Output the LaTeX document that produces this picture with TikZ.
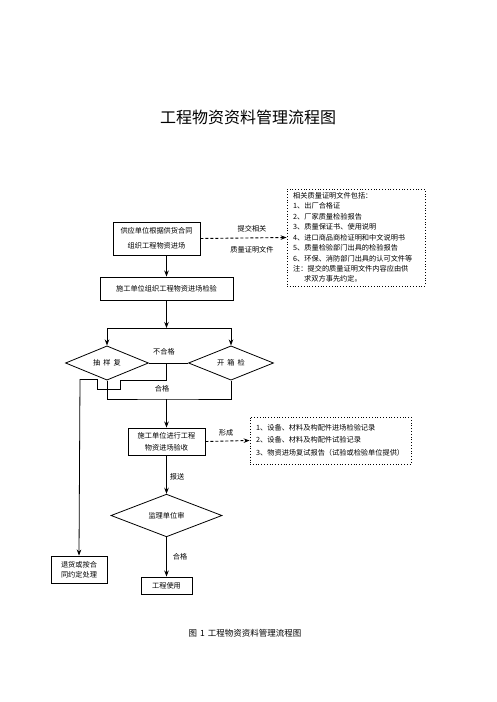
\documentclass[tikz,border=0pt]{standalone}
\usepackage{fontspec}
\setmainfont{Noto Sans CJK SC}
\usetikzlibrary{arrows.meta,shapes.geometric}
\tikzset{
  box/.style={draw,line width=0.9pt,inner sep=0pt,align=center,font=\fontsize{7.2}{12}\selectfont},
  dia/.style={draw,diamond,line width=0.8pt,inner sep=0pt,font=\fontsize{7.2}{9}\selectfont},
  infobox/.style={draw,dotted,line width=0.8pt},
  arr/.style={line width=0.8pt,-{Stealth[length=6pt,width=4.5pt]}},
  ln/.style={line width=0.8pt},
  dasharr/.style={line width=0.9pt,dashed,dash pattern=on 3pt off 2pt,-{Stealth[length=6pt,width=4.5pt]}},
  lbl/.style={font=\fontsize{7.2}{9}\selectfont,inner sep=0pt},
  txt/.style={font=\fontsize{7.2}{9}\selectfont,inner sep=0pt,align=left}
}
\begin{document}
\begin{tikzpicture}[x=1pt,y=-1pt]
\useasboundingbox (0,0) rectangle (496,702);
\fill[white] (0,0) rectangle (496,702);
% title
\node[inner sep=0pt,font=\fontsize{16}{18}\selectfont] (title) at (248,117) {工程物资资料管理流程图};
% boxes
\node[box,minimum width=87pt,minimum height=33pt,font=\fontsize{7.2}{15}\selectfont] (box1) at (156.5,238.5) {供应单位根据供货合同\\组织工程物资进场};
\node[box,minimum width=133pt,minimum height=23pt] (box2) at (166.5,288.5) {施工单位组织工程物资进场检验};
\node[dia,minimum width=83pt,minimum height=32pt] (d1) at (107,363) {抽\hspace{3pt}样\hspace{3pt}复};
\node[dia,minimum width=85pt,minimum height=32pt] (d2) at (231,363) {开\hspace{3pt}箱\hspace{3pt}检};
\node[box,minimum width=77pt,minimum height=27pt] (box3) at (166.5,441.5) {施工单位进行工程\\物资进场验收};
\node[dia,minimum width=111pt,minimum height=35pt] (d3) at (166.5,515.5) {监理单位审};
\node[box,minimum width=51pt,minimum height=17pt] (use) at (166.5,585.5) {工程使用};
\node[box,minimum width=56pt,minimum height=27pt,font=\fontsize{7.2}{10.5}\selectfont] (ret) at (79,569.5) {退货或按合\\同约定处理};
% info boxes
\node[infobox,minimum width=138pt,minimum height=97pt] (info1) at (356,237.5) {};
\node[txt,anchor=north west,font=\fontsize{7.2}{10.45}\selectfont] (info1t) at (293,192) {相关质量证明文件包括：\\1、出厂合格证\\2、厂家质量检验报告\\3、质量保证书、使用说明\\4、进口商品商检证明和中文说明书\\5、质量检验部门出具的检验报告\\6、环保、消防部门出具的认可文件等\\注：提交的质量证明文件内容应由供\\\hspace*{11pt}求双方事先约定。};
\node[infobox,minimum width=161pt,minimum height=47pt] (info2) at (330.5,440.5) {};
\node[txt,anchor=north west,font=\fontsize{7.2}{12.5}\selectfont] (info2t) at (256,424) {1、设备、材料及构配件进场检验记录\\2、设备、材料及构配件试验记录\\3、物资进场复试报告（试验或检验单位提供）};
% connectors
\draw[dasharr] (box1.east) -- (info1.west);
\node[lbl] (l1) at (252,229) {提交相关};
\node[lbl] (l2) at (252,250) {质量证明文件};
\draw[arr] (box1.south -| box2.north) -- (box2.north);
\coordinate (split) at (166.5,328);
\draw[arr] (box2.south) -- (split);
\draw[arr,shorten <=-0.4pt] (split) -| (d1.north);
\draw[arr,shorten <=-0.4pt] (split) -| (d2.north);
% fail path
\draw[ln] (d1.east) -- (d2.west);
\node[lbl] (l3) at (164,352) {不合格};
\coordinate (f0) at (166.5,363);
\coordinate (f1) at (80,379);
\draw[ln] (f0) -- (166.5,380) -- (120,380) -- (120,389) -- (97,389) -- (97,379) -- (f1);
\draw[arr] (f1) -- (ret.north);
% pass path
\coordinate (p0) at (166.5,399);
\draw[ln] (d1.south) |- (p0) -| (d2.south);
\node[lbl] (l4) at (162,389) {合格};
\draw[arr] (p0) -- (box3.north);
\draw[dasharr] (box3.east) -- (info2.west);
\node[lbl] (l5) at (226,433) {形成};
\draw[arr] (box3.south) -- (d3.north);
\node[lbl] (l6) at (177,477) {报送};
\draw[arr] (d3.south) -- (use.north);
\node[lbl] (l7) at (180,557) {合格};
% caption
\node[inner sep=0pt,font=\fontsize{8.5}{10}\selectfont] (cap) at (245,633) {图\hspace{3pt}1\hspace{3pt}工程物资资料管理流程图};
\end{tikzpicture}
\end{document}
